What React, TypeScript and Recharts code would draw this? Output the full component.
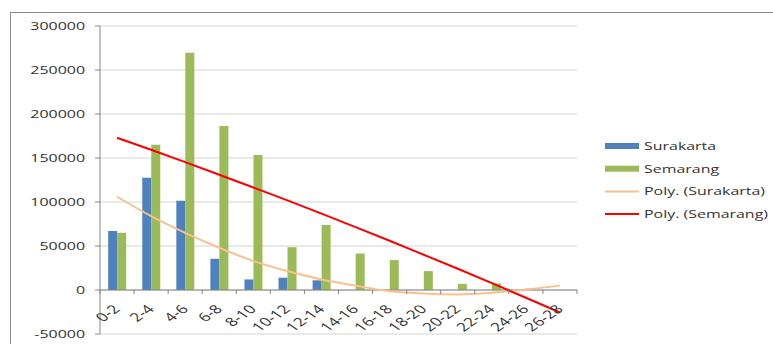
import { ComposedChart, Bar, Line, XAxis, YAxis, CartesianGrid, ReferenceLine, Legend } from 'recharts';

const categories = ['0-2', '2-4', '4-6', '6-8', '8-10', '10-12', '12-14', '14-16', '16-18', '18-20', '20-22', '22-24', '24-26', '26-28'];
const surakarta = [67000, 127500, 101500, 35500, 12000, 14000, 11000, 0, 0, 0, 0, 0, 0, 0];
const semarang = [65000, 165000, 269500, 186500, 153500, 48500, 74000, 41500, 34000, 21500, 7000, 7500, 1700, 0];
const polySurakarta = [106000, 84000, 65000, 48000, 33000, 21500, 12000, 5000, -1500, -4000, -5000, -3000, 500, 5000];
const polySemarang = [173000, 159300, 145300, 131000, 116500, 101800, 86800, 71500, 56000, 40100, 24100, 7800, -8800, -25600];
const yTicks = [-50000, 0, 50000, 100000, 150000, 200000, 250000, 300000];

const SERIES = [
  { key: 'surakarta', name: 'Surakarta', color: '#4f81bd' },
  { key: 'semarang', name: 'Semarang', color: '#9bbb59' },
  { key: 'polySurakarta', name: 'Poly. (Surakarta)', color: '#fac090' },
  { key: 'polySemarang', name: 'Poly. (Semarang)', color: '#ff0000' },
];

const data = categories.map((cat, i) => ({
  cat,
  surakarta: surakarta[i],
  semarang: semarang[i],
  polySurakarta: polySurakarta[i],
  polySemarang: polySemarang[i],
}));

const W = 773;
const H = 344;
const MARGIN = { top: 26, right: 196, bottom: 0, left: 0 };
const Y_AXIS_W = 100;
const X_AXIS_H = 10;
const Y_MIN = -50000;
const Y_MAX = 300000;
// Excel export is horizontally stretched, so text gets widened too
const STRETCH = 1.45;
const FONT = '"Open Sans", sans-serif';
const TEXT = '#333';
const AXIS = '#868686';

const plotH = H - MARGIN.top - MARGIN.bottom - X_AXIS_H;
const plotW = W - MARGIN.left - MARGIN.right - Y_AXIS_W;
const zeroY = MARGIN.top + (plotH * Y_MAX) / (Y_MAX - Y_MIN);
const band = plotW / categories.length;

function YTick({ x, y, payload }: any) {
  return (
    <text
      transform={`translate(${x},${y}) scale(${STRETCH},1)`}
      textAnchor="end"
      dy="0.35em"
      fontSize={11}
      fontFamily={FONT}
      fill={TEXT}
    >
      {payload.value}
    </text>
  );
}

// category labels sit on the zero line, with tick marks between categories
function XTick({ x, index, payload }: any) {
  const last = index === categories.length - 1;
  return (
    <g>
      <line x1={x - band / 2} x2={x - band / 2} y1={zeroY} y2={zeroY + 4} stroke={AXIS} />
      {last && <line x1={x + band / 2} x2={x + band / 2} y1={zeroY} y2={zeroY + 4} stroke={AXIS} />}
      <text
        transform={`translate(${x + 4},${zeroY + 20}) scale(${STRETCH},1) rotate(-45)`}
        textAnchor="end"
        fontSize={12}
        fontFamily={FONT}
        fill={TEXT}
      >
        {payload.value}
      </text>
    </g>
  );
}

function LegendBox() {
  return (
    <svg width={170} height={96}>
      {SERIES.map((s, i) => {
        const cy = 10 + i * 22.7;
        const isBar = i < 2;
        return (
          <g key={s.key}>
            {isBar ? (
              <rect x={1} y={cy - 3} width={34} height={6} fill={s.color} />
            ) : (
              <line x1={1} x2={35} y1={cy} y2={cy} stroke={s.color} strokeWidth={2} />
            )}
            <text
              transform={`translate(40,${cy}) scale(${STRETCH},1)`}
              dy="0.35em"
              fontSize={11}
              fontFamily={FONT}
              fill={TEXT}
            >
              {s.name}
            </text>
          </g>
        );
      })}
    </svg>
  );
}

export default function App() {
  return (
    <div style={{ position: 'absolute', left: 0, top: 0, width: W, height: H, overflow: 'hidden', background: '#fff' }}>
      <div
        style={{
          position: 'absolute',
          left: 10,
          top: 12,
          width: 900,
          height: 500,
          borderLeft: '1px solid #8c8c8c',
          borderTop: '1px solid #8c8c8c',
        }}
      />
      <ComposedChart width={W} height={H} data={data} margin={MARGIN} barCategoryGap="24%" barGap={0}>
        <CartesianGrid vertical={false} stroke="#d4d4d4" />
        <XAxis dataKey="cat" height={X_AXIS_H} axisLine={false} tickLine={false} tick={<XTick />} interval={0} />
        <YAxis
          width={Y_AXIS_W}
          domain={[Y_MIN, Y_MAX]}
          ticks={yTicks}
          allowDataOverflow
          stroke={AXIS}
          tickSize={5}
          tickMargin={10}
          tick={<YTick />}
        />
        <ReferenceLine y={0} stroke={AXIS} />
        <Bar dataKey="surakarta" name="Surakarta" fill={SERIES[0].color} isAnimationActive={false} legendType="rect" />
        <Bar dataKey="semarang" name="Semarang" fill={SERIES[1].color} isAnimationActive={false} legendType="rect" />
        <Line
          type="monotone"
          dataKey="polySurakarta"
          name="Poly. (Surakarta)"
          stroke={SERIES[2].color}
          strokeWidth={2}
          dot={false}
          isAnimationActive={false}
        />
        <Line
          type="monotone"
          dataKey="polySemarang"
          name="Poly. (Semarang)"
          stroke={SERIES[3].color}
          strokeWidth={2}
          dot={false}
          isAnimationActive={false}
        />
        <Legend
          layout="vertical"
          align="center"
          verticalAlign="middle"
          content={<LegendBox />}
          wrapperStyle={{ position: 'absolute', left: 604, top: 136, width: 170 }}
        />
      </ComposedChart>
    </div>
  );
}
